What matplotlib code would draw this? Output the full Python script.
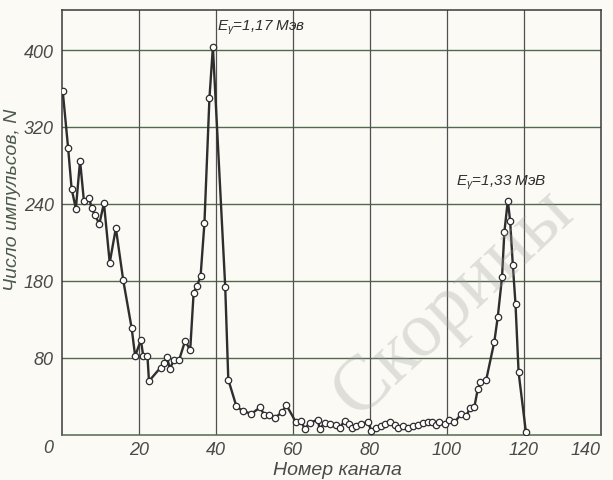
import matplotlib
matplotlib.use("Agg")
import matplotlib.pyplot as plt

# channel number / counts
channel = [0.2, 1.6, 2.5, 3.6, 4.7, 5.7, 7.1, 7.7, 8.6, 9.7,
           10.9, 12.4, 14.0, 15.9, 18.1, 19.0, 20.5, 21.1, 22.2, 22.6,
           25.6, 26.5, 27.3, 28.0, 29.1, 30.4, 32.0, 33.3, 34.2, 35.1,
           36.0, 37.0, 38.3, 39.2, 42.4, 43.2, 45.3, 46.9, 49.2, 51.5,
           52.5, 53.8, 55.3, 57.2, 58.3, 60.8, 62.2, 63.0, 64.3, 66.5,
           66.9, 68.2, 69.7, 71.3, 72.1, 73.4, 74.5, 75.4, 76.4, 77.7,
           79.5, 80.3, 81.6, 82.9, 83.8, 85.1, 86.4, 87.2, 88.5, 89.8,
           91.1, 92.4, 93.7, 95.0, 96.2, 97.2, 98.0, 99.6, 100.6, 101.9,
           103.7, 105.0, 106.0, 107.1, 108.0, 108.7, 110.2, 112.3, 113.2, 114.3,
           114.9, 115.8, 116.4, 117.1, 117.8, 118.6, 120.5]
counts = [357, 298, 256, 235, 285, 243, 246, 235.5, 228.6, 219,
          241, 179, 215, 161, 111, 82, 98.7, 82, 82, 56,
          70, 74.5, 80.7, 69, 77.6, 77.6, 98, 88, 148, 155,
          165, 220, 350, 403, 154, 57.5, 29.8, 25, 22, 28.8,
          21, 20.5, 18, 23.6, 31, 13, 15, 6, 12.5, 16,
          6, 12.5, 11.4, 10, 7, 15, 11.4, 7, 9.7, 11.4,
          13.8, 4.5, 7, 9.7, 11.4, 13, 10.4, 7, 9.7, 7,
          9.7, 10.4, 12.5, 13.8, 13, 10.4, 13, 11.4, 16, 13,
          21.8, 20, 27.7, 28.8, 47.8, 54.8, 57.5, 97, 123, 164,
          210.6, 243.5, 222.7, 176.6, 136, 65, 3]

yticks = [80, 160, 240, 320, 400]
ytick_labels = ["80", "180", "240", "320", "400"]   # printed as in the original
xticks = [20, 40, 60, 80, 100, 120, 140]

paper = "#fbfaf4"
ink = "#2e2e2e"
label_ink = "#4a4a48"
fnt = ["Liberation Sans", "DejaVu Sans"]

plt.rcParams["mathtext.fontset"] = "custom"
plt.rcParams["mathtext.it"] = "Liberation Sans:italic"
plt.rcParams["mathtext.rm"] = "Liberation Sans"

fig = plt.figure(figsize=(6.13, 4.81), dpi=100, facecolor=paper)
ax = fig.add_axes([0.1011, 0.0936, 0.8793, 0.8836])
ax.set_facecolor(paper)

ax.set_xlim(0, 140)
ax.set_ylim(0, 441.6)

# grid: green-ish horizontals, dark verticals
for y in yticks:
    ax.axhline(y, color="#4f6a4f", lw=1.0, zorder=1)
for x in xticks[:-1]:
    ax.axvline(x, color="#505050", lw=0.9, zorder=1)
for s in ax.spines.values():
    s.set_color("#3a3a3a")
    s.set_linewidth(1.1)
ax.spines["bottom"].set_color("#4f6a4f")

ax.plot(channel, counts, color=ink, lw=1.7, marker="o", ms=4.6,
        mfc="white", mec=ink, mew=0.9, zorder=3)

ax.set_xticks(xticks)
ax.set_xticklabels([str(t) for t in xticks])
ax.set_yticks(yticks)
ax.set_yticklabels(ytick_labels)
ax.tick_params(length=0, labelsize=13, labelcolor=label_ink)
ax.tick_params(axis="x", pad=4)
ax.tick_params(axis="y", pad=6)
for lab in ax.get_xticklabels() + ax.get_yticklabels():
    lab.set_family(fnt)
    lab.set_style("italic")
ax.get_xticklabels()[-1].set_horizontalalignment("right")
fig.text(48 / 613, 1 - 449 / 481, "0", fontsize=13, style="italic",
         family=fnt, color=label_ink, ha="center", va="center")

ax.set_xlabel("Номер канала", fontsize=14, style="italic", family=fnt,
              color=label_ink, va="center")
ax.xaxis.set_label_coords((337 - 62) / 539, (436 - 471) / 425)
ax.set_ylabel("Число импульсов, N", fontsize=14, style="italic", family=fnt,
              color="#4c5a4c", va="center")
ax.yaxis.set_label_coords((13 - 62) / 539, (436 - 200) / 425)

ax.text(40.2, 424, r"$E_\gamma$=1,17 Мэв", fontsize=11, style="italic",
        family=fnt, color=ink, ha="left", va="center")
ax.text(114.2, 263, r"$E_\gamma$=1,33 МэВ", fontsize=11, style="italic",
        family=fnt, color=ink, ha="center", va="center")

# faint watermark across the plot
fig.text(0.74, 0.37, "Скорины", fontsize=56, family=["Liberation Serif", "DejaVu Serif"],
         color="#a0a0a0", alpha=0.3, rotation=43, ha="center", va="center", zorder=5)

fig.savefig("out.png", dpi=100, facecolor=paper)
